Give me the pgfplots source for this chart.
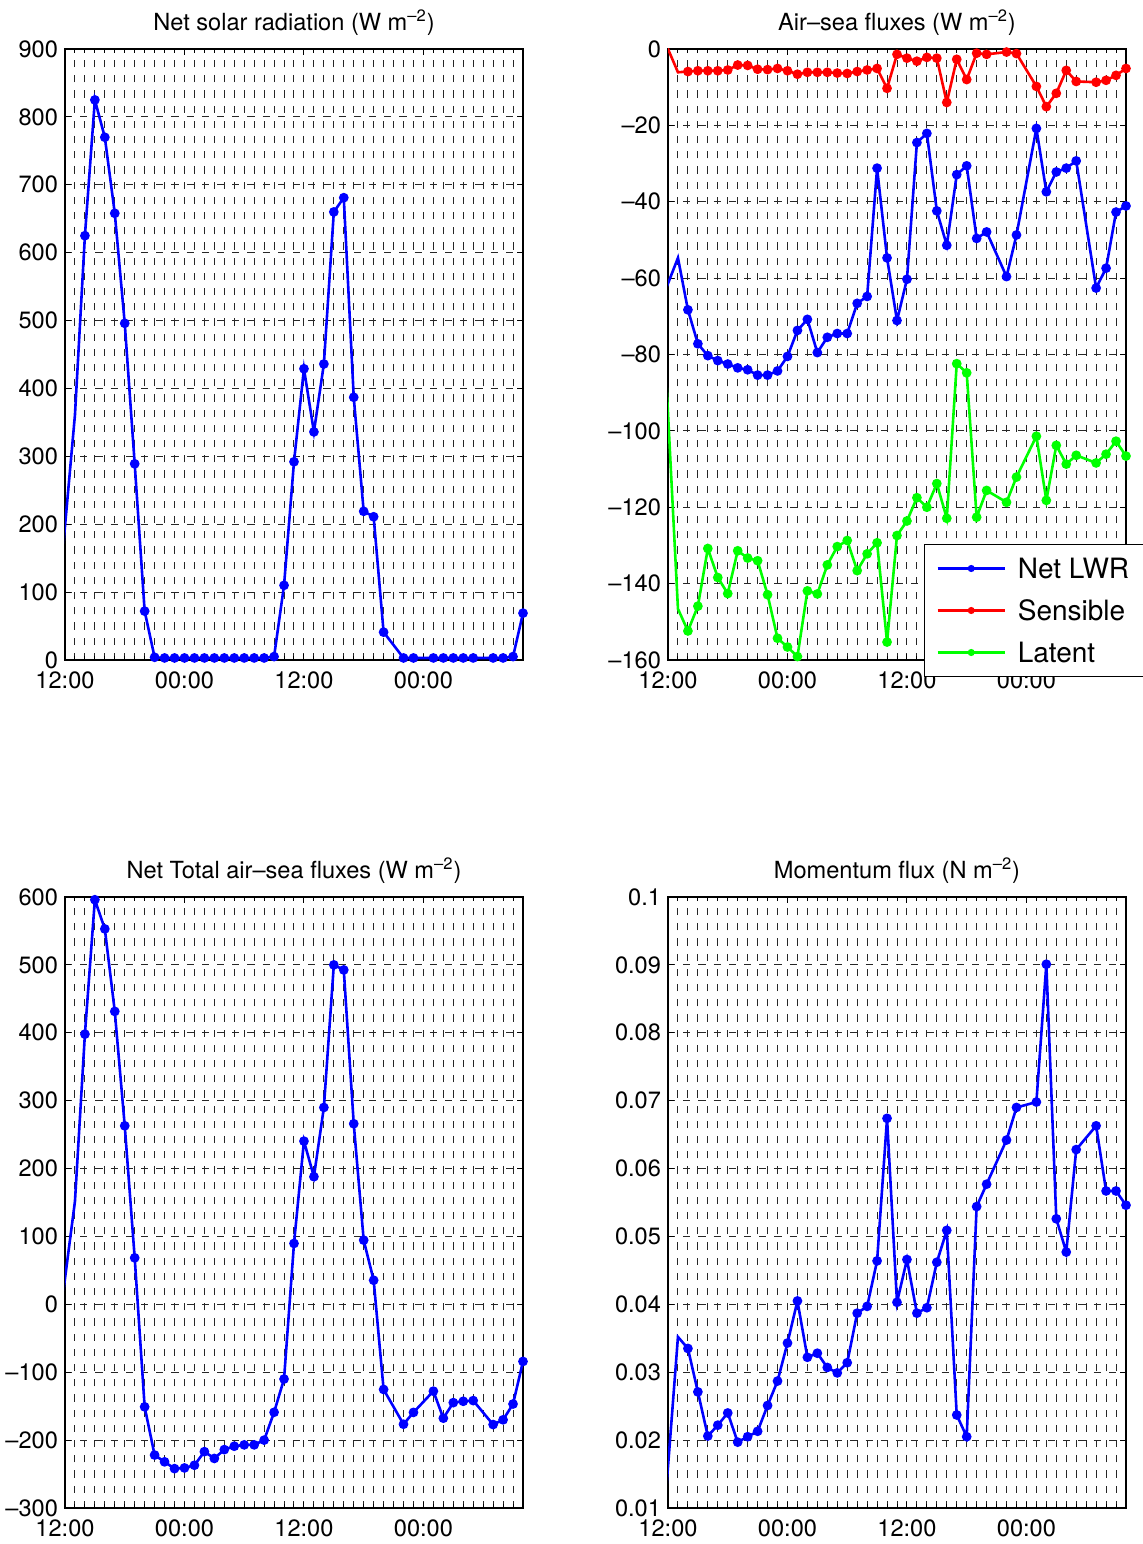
\documentclass[border=0pt]{standalone}
\usepackage{fontspec}
\setmainfont{TeX Gyre Heros}
\usepackage{pgfplots}
\pgfplotsset{compat=1.18}
\pgfplotsset{
  panel/.style={
    width=229pt, height=305.5pt, scale only axis,
    xmin=0, xmax=46,
    xtick={0,12,24,36}, xticklabels={12:00,00:00,12:00,00:00},
    minor xtick={1,2,3,4,5,6,7,8,9,10,11,13,14,15,16,17,18,19,20,21,22,23,25,26,27,28,29,30,31,32,33,34,35,37,38,39,40,41,42,43,44,45},
    xmajorgrids, xminorgrids, ymajorgrids,
    major grid style={black!85, line width=0.5pt, dash pattern=on 3.6pt off 4pt},
    minor grid style={black!85, line width=0.5pt, dash pattern=on 3.6pt off 4pt},
    tick align=inside,
    major tick length=3pt, minor tick length=2pt,
    tick style={black, line width=0.5pt},
    axis line style={line width=0.6pt},
    scaled y ticks=false,
    ticklabel style={font=\fontsize{11.8}{14}\selectfont},
    xticklabel style={yshift=-2.5pt},
    title style={at={(0.5,1)}, anchor=base, yshift=3.2pt, font=\fontsize{11.8}{14}\selectfont},
    every axis plot/.append style={line width=1.3pt, mark=*, mark size=1.75pt, mark phase=2, mark repeat=1},
  }
}
\begin{document}
\begin{tikzpicture}
\useasboundingbox (0,0) rectangle (571.5pt,772pt);
% ---------- Panel 1 ----------
\begin{axis}[panel, at={(32.5pt,442pt)}, anchor=south west,
  ymin=0, ymax=900,
  ytick={0,100,200,300,400,500,600,700,800,900},
  yticklabels={0,100,200,300,400,500,600,700,800,900},
  title={Net solar radiation (W m\textsuperscript{\textendash2})}]
\addplot[blue, mark options={fill=blue}] coordinates {
(-1,33) (1,361) (2,625) (3,825) (4,770) (5,658) (6,496) (7,289) (8,72) (9,4)
(10,3) (11,3) (12,3) (13,3) (14,3) (15,3) (16,3) (17,3) (18,3) (19,3) (20,3)
(21,5) (22,110) (23,292) (24,429) (25,336) (26,436) (27,660) (28,681) (29,387)
(30,219) (31,211) (32,41) (34,3) (35,3) (37,3) (38,3) (39,3) (40,3) (41,3)
(43,3) (44,3) (45,5) (46,69)};
\end{axis}
% ---------- Panel 2 ----------
\begin{axis}[panel, at={(334pt,442pt)}, anchor=south west,
  ymin=-160, ymax=0,
  ytick={-160,-140,-120,-100,-80,-60,-40,-20,0},
  yticklabels={\textendash160,\textendash140,\textendash120,\textendash100,\textendash80,\textendash60,\textendash40,\textendash20,0},
  title={Air\textendash sea fluxes (W m\textsuperscript{\textendash2})},
  legend style={at={(0.559,0.19)}, anchor=north west, draw=black, line width=0.6pt,
    fill=white, font=\fontsize{14}{16}\selectfont, inner xsep=6pt, inner ysep=5pt,
    row sep=7pt, column sep=4pt,
    nodes={inner sep=2pt, text height=10pt, text depth=0pt}},
  legend cell align=left,
  legend image code/.code={\draw[mark repeat=2, mark phase=2, mark size=1.2pt, line width=1.1pt] plot coordinates {(0pt,0pt) (16.75pt,0pt) (33.5pt,0pt)};}]
\addplot[blue, mark options={fill=blue}] coordinates {
(-1,-68.1) (1,-54.7) (2,-68.3) (3,-77.2) (4,-80.3) (5,-81.6) (6,-82.5) (7,-83.5)
(8,-84.0) (9,-85.4) (10,-85.4) (11,-84.3) (12,-80.5) (13,-73.7) (14,-70.8)
(15,-79.5) (16,-75.5) (17,-74.5) (18,-74.5) (19,-66.6) (20,-64.8) (21,-31.2)
(22,-54.7) (23,-71.1) (24,-60.3) (25,-24.5) (26,-22.1) (27,-42.4) (28,-51.4)
(29,-32.9) (30,-30.6) (31,-49.6) (32,-47.9) (34,-59.6) (35,-48.7) (37,-20.8)
(38,-37.4) (39,-32.2) (40,-31.2) (41,-29.3) (43,-62.6) (44,-57.4) (45,-42.7)
(46,-41.1)};
\addlegendentry{\makebox[58pt][l]{Net LWR}}
\addplot[red, mark options={fill=red}] coordinates {
(-1,6.1) (1,-6.1) (2,-5.9) (3,-5.7) (4,-5.7) (5,-5.7) (6,-5.5) (7,-4.2) (8,-4.3)
(9,-5.3) (10,-5.4) (11,-5.1) (12,-5.7) (13,-6.6) (14,-6.1) (15,-6.1) (16,-6.1)
(17,-6.3) (18,-6.4) (19,-5.9) (20,-5.5) (21,-5.1) (22,-10.3) (23,-1.4) (24,-2.4)
(25,-3.2) (26,-2.2) (27,-2.4) (28,-14.0) (29,-2.7) (30,-8.0) (31,-1.1) (32,-1.4)
(34,-0.8) (35,-1.2) (37,-9.8) (38,-15.1) (39,-11.6) (40,-5.6) (41,-8.5)
(43,-8.7) (44,-8.2) (45,-6.9) (46,-5.1)};
\addlegendentry{\makebox[58pt][l]{Sensible}}
\addplot[green, mark options={fill=green}] coordinates {
(-1,-44.2) (1,-146.6) (2,-152.4) (3,-145.9) (4,-130.8) (5,-138.4) (6,-142.6)
(7,-131.4) (8,-133.3) (9,-134.0) (10,-142.9) (11,-154.3) (12,-156.6) (13,-159.1)
(14,-141.9) (15,-142.7) (16,-135.1) (17,-130.3) (18,-128.7) (19,-136.6)
(20,-132.2) (21,-129.3) (22,-155.3) (23,-127.4) (24,-123.6) (25,-117.5)
(26,-120.0) (27,-113.8) (28,-122.9) (29,-82.4) (30,-84.8) (31,-122.6)
(32,-115.6) (34,-118.7) (35,-112.1) (37,-101.4) (38,-118.2) (39,-103.8)
(40,-108.7) (41,-106.4) (43,-108.4) (44,-106.1) (45,-102.7) (46,-106.6)};
\addlegendentry{\makebox[58pt][l]{Latent}}
\end{axis}
% ---------- Panel 3 ----------
\begin{axis}[panel, at={(32.5pt,18pt)}, anchor=south west,
  ymin=-300, ymax=600,
  ytick={-300,-200,-100,0,100,200,300,400,500,600},
  yticklabels={\textendash300,\textendash200,\textendash100,0,100,200,300,400,500,600},
  title={Net Total air\textendash sea fluxes (W m\textsuperscript{\textendash2})}]
\addplot[blue, mark options={fill=blue}] coordinates {
(-1,-75.7) (1,151.7) (2,398) (3,596) (4,553) (5,431.5) (6,263) (7,68.5) (8,-151)
(9,-222) (10,-232) (11,-242) (12,-241) (13,-237) (14,-217) (15,-227) (16,-214)
(17,-209) (18,-207) (19,-207) (20,-200) (21,-159) (22,-110) (23,89.7) (24,240.4)
(25,188) (26,290) (27,500) (28,492.6) (29,266) (30,94.6) (31,35.5) (32,-125.4)
(34,-176.6) (35,-159.2) (37,-127.9) (38,-167.7) (39,-144.8) (40,-142.8)
(41,-141.8) (43,-177.1) (44,-170.1) (45,-146.8) (46,-84.1)};
\end{axis}
% ---------- Panel 4 ----------
\begin{axis}[panel, at={(334pt,18pt)}, anchor=south west,
  ymin=0.01, ymax=0.1,
  ytick={0.01,0.02,0.03,0.04,0.05,0.06,0.07,0.08,0.09,0.1},
  yticklabels={0.01,0.02,0.03,0.04,0.05,0.06,0.07,0.08,0.09,0.1},
  title={Momentum flux (N m\textsuperscript{\textendash2})}]
\addplot[blue, mark options={fill=blue}] coordinates {
(-1,-0.003) (1,0.0352) (2,0.0335) (3,0.0271) (4,0.0206) (5,0.0222) (6,0.0240)
(7,0.0197) (8,0.0205) (9,0.0213) (10,0.0251) (11,0.0287) (12,0.0343) (13,0.0405)
(14,0.0322) (15,0.0328) (16,0.0307) (17,0.0299) (18,0.0314) (19,0.0387)
(20,0.0397) (21,0.0464) (22,0.0674) (23,0.0403) (24,0.0466) (25,0.0387)
(26,0.0395) (27,0.0462) (28,0.0509) (29,0.0237) (30,0.0205) (31,0.0544)
(32,0.0577) (34,0.0642) (35,0.0690) (37,0.0698) (38,0.0901) (39,0.0526)
(40,0.0477) (41,0.0628) (43,0.0663) (44,0.0567) (45,0.0567) (46,0.0546)};
\end{axis}
\end{tikzpicture}
\end{document}
